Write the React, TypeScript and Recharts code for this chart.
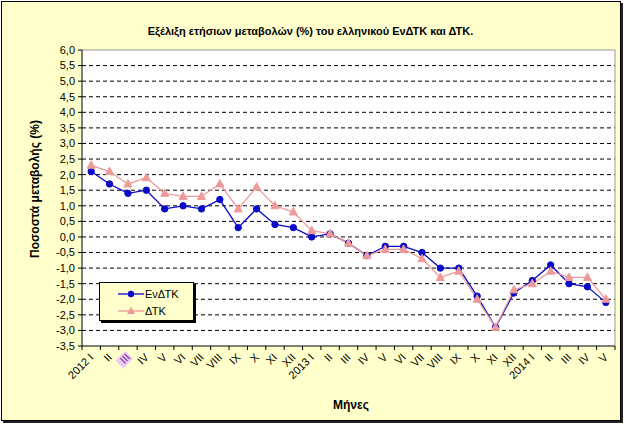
import React from 'react';
import { LineChart, Line, XAxis, YAxis, CartesianGrid, ReferenceLine } from 'recharts';

// Month labels (Roman numerals, year marked on each January)
const months = [
  '2012 I', 'II', 'III', 'IV', 'V', 'VI', 'VII', 'VIII', 'IX', 'X', 'XI', 'XII',
  '2013 I', 'II', 'III', 'IV', 'V', 'VI', 'VII', 'VIII', 'IX', 'X', 'XI', 'XII',
  '2014 I', 'II', 'III', 'IV', 'V',
];

// Annual change (%) of the harmonised index (ΕνΔΤΚ)
const hicp = [
  2.1, 1.7, 1.4, 1.5, 0.9, 1.0, 0.9, 1.2, 0.3, 0.9, 0.4, 0.3,
  0.0, 0.1, -0.2, -0.6, -0.3, -0.3, -0.5, -1.0, -1.0, -1.9, -2.9, -1.8,
  -1.4, -0.9, -1.5, -1.6, -2.1,
];

// Annual change (%) of the consumer price index (ΔΤΚ)
const cpi = [
  2.3, 2.1, 1.7, 1.9, 1.4, 1.3, 1.3, 1.7, 0.9, 1.6, 1.0, 0.8,
  0.2, 0.1, -0.2, -0.6, -0.4, -0.4, -0.7, -1.3, -1.1, -2.0, -2.9, -1.7,
  -1.5, -1.1, -1.3, -1.3, -2.0,
];

const yTicks = [-3.5, -3.0, -2.5, -2.0, -1.5, -1.0, -0.5, 0.0, 0.5, 1.0, 1.5, 2.0, 2.5, 3.0, 3.5, 4.0, 4.5, 5.0, 5.5, 6.0];
const gridValues = [-3.0, -2.5, -2.0, -1.5, -1.0, -0.5, 0.0, 0.5, 1.0, 1.5, 2.0, 2.5, 3.0, 3.5, 4.0, 4.5, 5.0, 5.5];

const BLUE = '#0A0AC8';
const PINK = '#EE9A9A';
const FONT = 'Arial, "Liberation Sans", sans-serif';

const data = months.map((m, i) => ({ i, month: m, hicp: hicp[i], cpi: cpi[i] }));

// label positions at band centres, tick marks at band boundaries
const xTicks: number[] = [];
for (let k = 0; k <= months.length; k++) {
  xTicks.push(k - 0.5);
  if (k < months.length) xTicks.push(k);
}

const renderMonthTick = (props: any) => {
  const { x, y, payload, index } = props;
  const v = payload.value as number;
  if (!Number.isInteger(v)) {
    return <line key={`m${index}`} x1={x} y1={y} x2={x} y2={y + 4} stroke="#000" strokeWidth={1} />;
  }
  const label = months[v];
  const marked = v === 2;
  return (
    <g key={`l${index}`} transform={`translate(${x + 3} ${y + 12})`}>
      <g transform="rotate(-45)">
        {marked && <rect x={-13} y={-9} width={14} height={11} fill="#EBCBF2" />}
        <text x={0} y={0} textAnchor="end" fontSize={11} fontFamily={FONT} fill={marked ? '#7A2E9E' : '#000'}>
          {label}
        </text>
      </g>
    </g>
  );
};

const Triangle = (props: any) => {
  const { cx, cy, key } = props;
  if (cx == null || cy == null) return <g key={key} />;
  return (
    <polygon
      key={key}
      points={`${cx},${cy - 4.5} ${cx - 4},${cy + 3} ${cx + 4},${cy + 3}`}
      fill={PINK}
      stroke={PINK}
    />
  );
};

const Circle = (props: any) => {
  const { cx, cy, key } = props;
  if (cx == null || cy == null) return <g key={key} />;
  return <circle key={key} cx={cx} cy={cy} r={3.2} fill={BLUE} stroke={BLUE} />;
};

const series = [
  { name: 'ΕνΔΤΚ', color: BLUE, shape: 'circle' },
  { name: 'ΔΤΚ', color: PINK, shape: 'triangle' },
];

const fmt = (v: number) => v.toFixed(1).replace('.', ',');

export default function App() {
  return (
    <div style={{ position: 'absolute', left: 0, top: 0, width: 627, height: 426, fontFamily: FONT }}>
      <div
        style={{
          position: 'absolute',
          left: 1,
          top: 1,
          width: 618,
          height: 418,
          border: '1px solid #000',
          boxShadow: '2px 2px 0 #222',
          background: '#FFFFCC',
        }}
      />
      <div
        style={{
          position: 'absolute',
          left: 0,
          top: 25,
          width: 621,
          textAlign: 'center',
          fontSize: 11,
          fontWeight: 'bold',
          color: '#000',
        }}
      >
        Εξέλιξη ετήσιων μεταβολών (%) του ελληνικού ΕνΔΤΚ και ΔΤΚ.
      </div>
      <div
        style={{
          position: 'absolute',
          left: 35,
          top: 189,
          transform: 'translate(-50%, -50%) rotate(-90deg)',
          whiteSpace: 'nowrap',
          fontSize: 12,
          fontWeight: 'bold',
          color: '#000',
        }}
      >
        Ποσοστά μεταβολής (%)
      </div>
      <div
        style={{
          position: 'absolute',
          left: 351,
          top: 405,
          transform: 'translate(-50%, -50%)',
          whiteSpace: 'nowrap',
          fontSize: 12,
          fontWeight: 'bold',
          color: '#000',
        }}
      >
        Μήνες
      </div>
      <div style={{ position: 'absolute', left: 0, top: 0 }}>
        <LineChart width={627} height={426} data={data} margin={{ top: 50, right: 12, bottom: 0, left: 0 }}>
          <CartesianGrid
            fill="#FFFFFF"
            vertical={false}
            horizontalValues={gridValues}
            stroke="#000"
            strokeDasharray="4 3"
          />
          <XAxis
            dataKey="i"
            type="number"
            domain={[-0.5, months.length - 0.5]}
            ticks={xTicks}
            interval={0}
            height={80}
            tickSize={0}
            tickMargin={0}
            tickLine={false}
            axisLine={{ stroke: '#000' }}
            tick={renderMonthTick}
          />
          <YAxis
            type="number"
            domain={[-3.5, 6]}
            ticks={yTicks}
            interval={0}
            width={82}
            tickSize={4}
            tickMargin={3}
            tickFormatter={fmt}
            tick={{ fill: '#000', fontSize: 11, fontFamily: FONT }}
            tickLine={{ stroke: '#000' }}
            axisLine={{ stroke: '#000' }}
          />
          <ReferenceLine y={6} stroke="#9A9A9A" />
          <ReferenceLine x={months.length - 0.5} stroke="#9A9A9A" />
          <Line
            dataKey="hicp"
            name={series[0].name}
            stroke={BLUE}
            strokeWidth={1.3}
            dot={<Circle />}
            activeDot={false}
            isAnimationActive={false}
          />
          <Line
            dataKey="cpi"
            name={series[1].name}
            stroke={PINK}
            strokeWidth={1.3}
            dot={<Triangle />}
            activeDot={false}
            isAnimationActive={false}
          />
        </LineChart>
      </div>
      {/* legend box */}
      <div
        style={{
          position: 'absolute',
          left: 99,
          top: 282,
          width: 93,
          height: 37,
          border: '1px solid #000',
          boxShadow: '2px 2px 0 #000',
          background: '#FFFFCC',
        }}
      >
        {series.map((s, idx) => (
          <div key={s.name} style={{ position: 'absolute', left: 18, top: 3 + idx * 17, height: 16, display: 'flex', alignItems: 'center' }}>
            <svg width={26} height={16}>
              <line x1={0} y1={8} x2={26} y2={8} stroke={s.color} strokeWidth={1.3} />
              {s.shape === 'circle' ? (
                <circle cx={13} cy={8} r={3.2} fill={s.color} />
              ) : (
                <polygon points="13,3.5 9,11 17,11" fill={s.color} />
              )}
            </svg>
            <span style={{ fontSize: 11, color: '#000', marginLeft: 1 }}>{s.name}</span>
          </div>
        ))}
      </div>
    </div>
  );
}
